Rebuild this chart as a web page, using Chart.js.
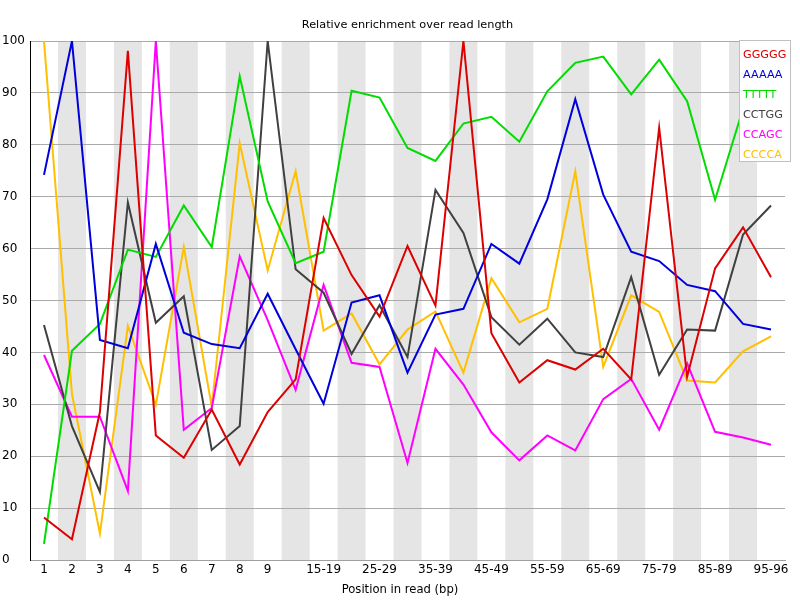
<!DOCTYPE html>
<html>
<head>
<meta charset="utf-8">
<script src="https://cdn.jsdelivr.net/npm/chart.js@4/dist/chart.umd.min.js"></script>
<style>
  body { margin: 0; background: #fff; }
  #chart { display: block; }
</style>
</head>
<body>
<canvas id="chart" width="800" height="600"></canvas>
<script>
const positions = ['1','2','3','4','5','6','7','8','9','10-14','15-19','20-24','25-29','30-34','35-39',
  '40-44','45-49','50-54','55-59','60-64','65-69','70-74','75-79','80-84','85-89','90-94','95-96'];

const ggggg = [8.2, 4.0, 28.5, 98.1, 24.0, 19.7, 29.0, 18.4, 28.5, 34.8, 65.9, 54.9, 46.9, 60.5, 49.0,
  100, 43.7, 34.2, 38.5, 36.7, 40.7, 34.8, 83.3, 35.3, 56.2, 64.1, 54.5];
const aaaaa = [74.2, 100, 42.4, 40.8, 60.9, 43.8, 41.6, 40.8, 51.3, 40.6, 30.1, 49.6, 51.0, 36.1, 47.3,
  48.4, 60.9, 57.1, 69.5, 88.8, 70.4, 59.4, 57.6, 53.0, 51.8, 45.5, 44.4];
const ttttt = [3.1, 40.3, 45.5, 59.8, 58.4, 68.3, 60.3, 93.2, 69.1, 57.2, 59.4, 90.4, 89.1, 79.4, 76.9,
  84.1, 85.4, 80.6, 90.3, 95.8, 97.0, 89.7, 96.4, 88.4, 69.4, 87.0, 100];
const cctgg = [45.3, 25.8, 13.1, 68.9, 45.7, 50.8, 21.2, 25.8, 100, 56.0, 51.5, 39.7, 49.1, 39.1, 71.3,
  63.0, 46.8, 41.5, 46.5, 40.0, 39.1, 54.5, 35.7, 44.4, 44.2, 62.7, 68.3];
const ccagc = [39.5, 27.6, 27.6, 13.3, 100, 25.1, 29.3, 58.5, 46.2, 32.8, 53.0, 38.0, 37.2, 18.7, 40.7,
  33.8, 24.6, 19.2, 24.0, 21.1, 31.0, 34.9, 25.1, 37.9, 24.7, 23.6, 22.2];
const cccca = [100, 32.0, 5.1, 45.1, 29.9, 60.3, 29.5, 80.3, 55.8, 74.9, 44.2, 47.5, 37.7, 44.4, 47.9,
  36.1, 54.3, 45.8, 48.4, 74.9, 37.2, 51.0, 47.8, 34.6, 34.2, 40.2, 43.1];

const kmers = ['GGGGG', 'AAAAA', 'TTTTT', 'CCTGG', 'CCAGC', 'CCCCA'];
const colors = ['#dc0000', '#0000dc', '#00dc00', '#404040', '#ff00ff', '#ffc000'];
const seriesData = [ggggg, aaaaa, ttttt, cctgg, ccagc, cccca];

const FONT = 'DejaVu Sans, sans-serif';

// grey bands behind every second position
const stripes = {
  id: 'stripes',
  beforeDraw(chart) {
    const { ctx, chartArea: a, scales: { x } } = chart;
    const step = x.getPixelForValue(1) - x.getPixelForValue(0);
    ctx.save();
    ctx.fillStyle = '#e5e5e5';
    for (let i = 1; i < positions.length; i += 2) {
      const cx = x.getPixelForValue(i);
      ctx.fillRect(cx - step / 2, a.top, step, a.bottom - a.top);
    }
    ctx.restore();
  }
};

// title, axis title and the text-only legend box
const labels = {
  id: 'labels',
  afterDraw(chart) {
    const { ctx, chartArea: a } = chart;
    ctx.save();
    ctx.fillStyle = '#000';
    ctx.textAlign = 'center';
    ctx.textBaseline = 'middle';
    ctx.font = '11.3px ' + FONT;
    ctx.fillText('Relative enrichment over read length', (a.left + a.right) / 2, 25);
    ctx.font = '11.6px ' + FONT;
    ctx.fillText('Position in read (bp)', 400, 590);

    ctx.fillStyle = '#fff';
    ctx.strokeStyle = '#c0c0c0';
    ctx.lineWidth = 1;
    ctx.fillRect(739.5, 40.5, 51, 121);
    ctx.strokeRect(739.5, 40.5, 51, 121);
    ctx.textAlign = 'left';
    ctx.font = '11.2px ' + FONT;
    kmers.forEach((k, i) => {
      ctx.fillStyle = colors[i];
      ctx.fillText(k, 743, 55 + i * 20);
    });
    ctx.restore();
  }
};

new Chart(document.getElementById('chart'), {
  type: 'line',
  data: {
    labels: positions,
    datasets: kmers.map((k, i) => ({
      label: k,
      data: seriesData[i],
      borderColor: colors[i],
      backgroundColor: colors[i],
      borderWidth: 2,
      pointRadius: 0,
      tension: 0,
      fill: false
    }))
  },
  options: {
    responsive: false,
    animation: false,
    layout: { padding: { top: 41, right: 15, left: 2, bottom: 0 } },
    plugins: {
      legend: { display: false },
      title: { display: false },
      tooltip: { enabled: false }
    },
    scales: {
      x: {
        offset: true,
        grid: { display: false, drawTicks: false },
        border: { color: '#a0a0a0' },
        ticks: {
          autoSkip: false,
          maxRotation: 0,
          padding: 3,
          color: '#000',
          font: { family: FONT, size: 12 },
          callback: (v, i) => (i <= 8 || i % 2 === 0) ? positions[i] : ''
        },
        afterFit(scale) { scale.height = 40; }
      },
      y: {
        min: 0,
        max: 100,
        grid: { color: '#aaaaaa', drawTicks: false },
        border: { color: '#000' },
        ticks: {
          stepSize: 10,
          crossAlign: 'far',
          color: '#000',
          font: { family: FONT, size: 12 }
        },
        afterFit(scale) { scale.width = 28; }
      }
    }
  },
  plugins: [stripes, labels]
});
</script>
</body>
</html>
